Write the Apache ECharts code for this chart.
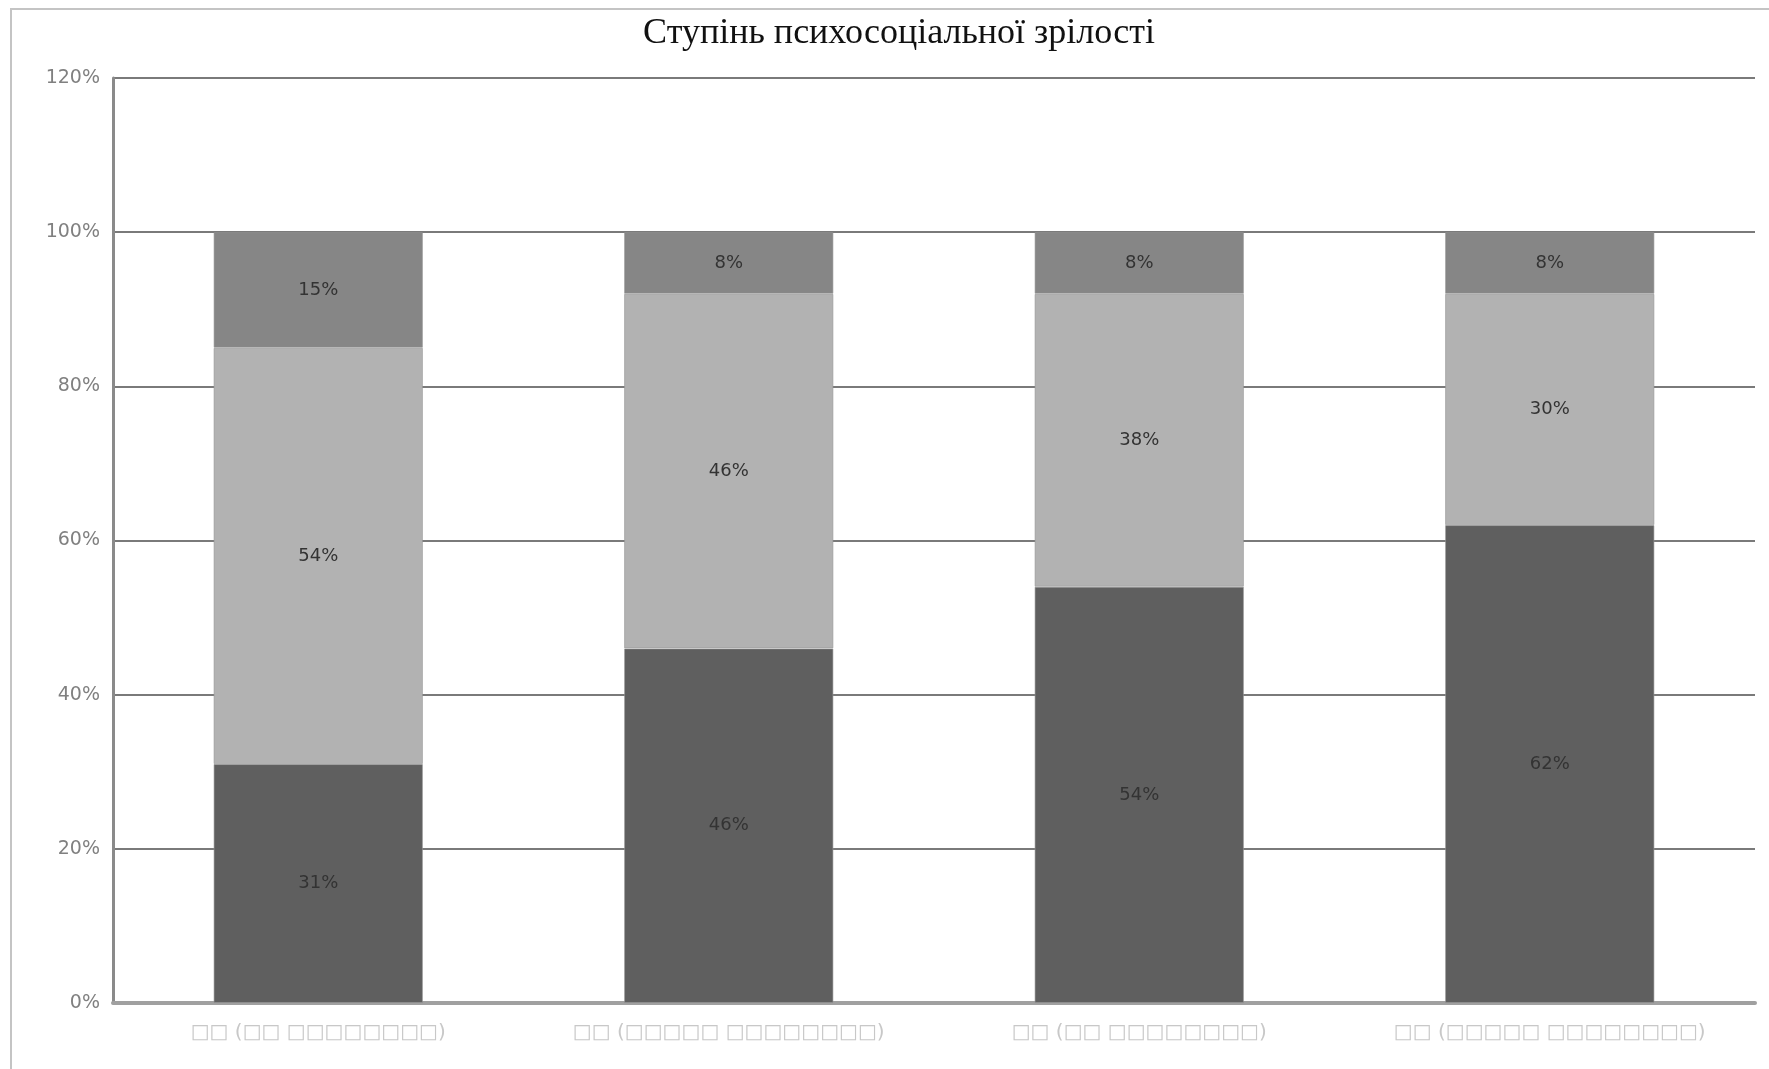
<!DOCTYPE html>
<html><head><meta charset="utf-8">
<script src="https://cdn.jsdelivr.net/npm/echarts@6/dist/echarts.min.js"></script>
<style>html,body{margin:0;padding:0;background:#fff;}#c{width:1769px;height:1069px;}</style>
</head><body><div id="c"></div>
<script>
const title = 'Ступінь психосоціальної зрілості';
const categories = ['□□ (□□ □□□□□□□□)', '□□ (□□□□□ □□□□□□□□)', '□□ (□□ □□□□□□□□)', '□□ (□□□□□ □□□□□□□□)'];
const lowValues = [31, 46, 54, 62];
const midValues = [54, 46, 38, 30];
const topValues = [15, 8, 8, 8];
const yTicks = [0, 20, 40, 60, 80, 100, 120];

const chart = echarts.init(document.getElementById('c'));
const lbl = {show: true, position: 'inside', color: '#333', fontFamily: 'DejaVu Sans', fontSize: 18,
  formatter: p => Math.round(p.value) + '%'};
function s(data, color) {
  return {type: 'bar', stack: 'a', data: data, barWidth: '51%',
    itemStyle: {color: color, borderColor: 'rgba(150,150,150,0.6)', borderWidth: 1}, label: lbl};
}
chart.setOption({
  animation: false,
  backgroundColor: '#fff',
  title: {text: title, left: 894, top: 11, textAlign: 'center',
    textStyle: {fontFamily: 'Liberation Serif', fontSize: 36, fontWeight: 'normal', color: '#111'}},
  graphic: [{type: 'rect', shape: {x: 11, y: 9, width: 1800, height: 1100},
    style: {fill: 'none', stroke: '#c4c4c4', lineWidth: 2}, silent: true}],
  grid: {left: 113, right: 14, top: 78, bottom: 66},
  xAxis: {type: 'category', data: categories,
    axisLine: {lineStyle: {color: '#a0a0a0', width: 4}}, axisTick: {show: false},
    axisLabel: {color: '#c8c8c8', fontFamily: 'DejaVu Sans', fontSize: 20, margin: 20}},
  yAxis: {type: 'value', min: yTicks[0], max: yTicks[yTicks.length - 1], interval: 20,
    axisLine: {show: true, lineStyle: {color: '#8a8a8a', width: 3}}, axisTick: {show: false},
    axisLabel: {formatter: '{value}%', color: '#808080', fontFamily: 'DejaVu Sans', fontSize: 19, margin: 13},
    splitLine: {lineStyle: {color: '#7a7a7a', width: 2}}},
  series: [s(lowValues, '#5f5f5f'), s(midValues, '#b2b2b2'), s(topValues, '#868686')]
});
</script></body></html>
